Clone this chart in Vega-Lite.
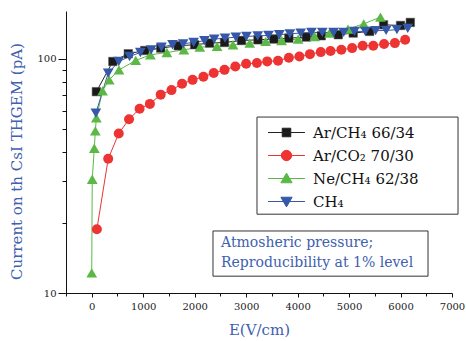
{
  "$schema": "https://vega.github.io/schema/vega-lite/v6.json",
  "width": 386,
  "height": 282,
  "padding": {"left": 66, "top": 11, "right": 14, "bottom": 48},
  "autosize": {"type": "none"},
  "background": "white",
  "config": {
    "view": {"stroke": null},
    "font": "DejaVu Serif",
    "axis": {
      "domainColor": "#111",
      "tickColor": "#111",
      "labelColor": "#222",
      "labelFont": "DejaVu Serif",
      "labelFontSize": 10,
      "titleFont": "DejaVu Serif",
      "titleFontSize": 15,
      "titleFontWeight": "normal",
      "titleColor": "#4060b0",
      "grid": false
    }
  },
  "datasets": {
    "pts": [
      {"series": "Ar/CH₄ 66/34", "E": 90, "I": 72.4},
      {"series": "Ar/CH₄ 66/34", "E": 410, "I": 97.4},
      {"series": "Ar/CH₄ 66/34", "E": 710, "I": 105.1},
      {"series": "Ar/CH₄ 66/34", "E": 1030, "I": 108.5},
      {"series": "Ar/CH₄ 66/34", "E": 1340, "I": 111.1},
      {"series": "Ar/CH₄ 66/34", "E": 1680, "I": 113.7},
      {"series": "Ar/CH₄ 66/34", "E": 2000, "I": 114.8},
      {"series": "Ar/CH₄ 66/34", "E": 2290, "I": 116.7},
      {"series": "Ar/CH₄ 66/34", "E": 2580, "I": 117.4},
      {"series": "Ar/CH₄ 66/34", "E": 2910, "I": 119.7},
      {"series": "Ar/CH₄ 66/34", "E": 3230, "I": 120.5},
      {"series": "Ar/CH₄ 66/34", "E": 3540, "I": 121.4},
      {"series": "Ar/CH₄ 66/34", "E": 3830, "I": 122.5},
      {"series": "Ar/CH₄ 66/34", "E": 4170, "I": 123.8},
      {"series": "Ar/CH₄ 66/34", "E": 4460, "I": 125.4},
      {"series": "Ar/CH₄ 66/34", "E": 4790, "I": 126.7},
      {"series": "Ar/CH₄ 66/34", "E": 5080, "I": 128.8},
      {"series": "Ar/CH₄ 66/34", "E": 5400, "I": 130.9},
      {"series": "Ar/CH₄ 66/34", "E": 5670, "I": 139.7},
      {"series": "Ar/CH₄ 66/34", "E": 6000, "I": 138.8},
      {"series": "Ar/CH₄ 66/34", "E": 6190, "I": 143},
      {"series": "Ar/CO₂ 70/30", "E": 100, "I": 18.7},
      {"series": "Ar/CO₂ 70/30", "E": 320, "I": 37.4},
      {"series": "Ar/CO₂ 70/30", "E": 525, "I": 48.0},
      {"series": "Ar/CO₂ 70/30", "E": 725, "I": 55.2},
      {"series": "Ar/CO₂ 70/30", "E": 930, "I": 61.2},
      {"series": "Ar/CO₂ 70/30", "E": 1130, "I": 64.2},
      {"series": "Ar/CO₂ 70/30", "E": 1340, "I": 70.3},
      {"series": "Ar/CO₂ 70/30", "E": 1550, "I": 73.5},
      {"series": "Ar/CO₂ 70/30", "E": 1755, "I": 78.2},
      {"series": "Ar/CO₂ 70/30", "E": 1960, "I": 81.3},
      {"series": "Ar/CO₂ 70/30", "E": 2170, "I": 83.8},
      {"series": "Ar/CO₂ 70/30", "E": 2370, "I": 86.9},
      {"series": "Ar/CO₂ 70/30", "E": 2580, "I": 89.7},
      {"series": "Ar/CO₂ 70/30", "E": 2790, "I": 92.7},
      {"series": "Ar/CO₂ 70/30", "E": 3000, "I": 95.2},
      {"series": "Ar/CO₂ 70/30", "E": 3210, "I": 95.9},
      {"series": "Ar/CO₂ 70/30", "E": 3410, "I": 97.5},
      {"series": "Ar/CO₂ 70/30", "E": 3620, "I": 98.1},
      {"series": "Ar/CO₂ 70/30", "E": 3830, "I": 101},
      {"series": "Ar/CO₂ 70/30", "E": 4035, "I": 102.3},
      {"series": "Ar/CO₂ 70/30", "E": 4240, "I": 104.7},
      {"series": "Ar/CO₂ 70/30", "E": 4450, "I": 106.8},
      {"series": "Ar/CO₂ 70/30", "E": 4640, "I": 107.9},
      {"series": "Ar/CO₂ 70/30", "E": 4850, "I": 109.3},
      {"series": "Ar/CO₂ 70/30", "E": 5060, "I": 111.1},
      {"series": "Ar/CO₂ 70/30", "E": 5265, "I": 113.7},
      {"series": "Ar/CO₂ 70/30", "E": 5470, "I": 113.7},
      {"series": "Ar/CO₂ 70/30", "E": 5680, "I": 115.6},
      {"series": "Ar/CO₂ 70/30", "E": 5890, "I": 116.7},
      {"series": "Ar/CO₂ 70/30", "E": 6090, "I": 120.6},
      {"series": "Ne/CH₄ 62/38", "E": 0, "I": 12.2},
      {"series": "Ne/CH₄ 62/38", "E": 10, "I": 30.6},
      {"series": "Ne/CH₄ 62/38", "E": 50, "I": 41.5},
      {"series": "Ne/CH₄ 62/38", "E": 70, "I": 49.2},
      {"series": "Ne/CH₄ 62/38", "E": 90, "I": 56},
      {"series": "Ne/CH₄ 62/38", "E": 210, "I": 73},
      {"series": "Ne/CH₄ 62/38", "E": 340, "I": 81.3},
      {"series": "Ne/CH₄ 62/38", "E": 530, "I": 89.7},
      {"series": "Ne/CH₄ 62/38", "E": 855, "I": 98.4},
      {"series": "Ne/CH₄ 62/38", "E": 1140, "I": 104},
      {"series": "Ne/CH₄ 62/38", "E": 1460, "I": 106.4},
      {"series": "Ne/CH₄ 62/38", "E": 1790, "I": 109.2},
      {"series": "Ne/CH₄ 62/38", "E": 2100, "I": 112.2},
      {"series": "Ne/CH₄ 62/38", "E": 2435, "I": 112.9},
      {"series": "Ne/CH₄ 62/38", "E": 2745, "I": 114.8},
      {"series": "Ne/CH₄ 62/38", "E": 3070, "I": 116.7},
      {"series": "Ne/CH₄ 62/38", "E": 3380, "I": 118.6},
      {"series": "Ne/CH₄ 62/38", "E": 3690, "I": 119.7},
      {"series": "Ne/CH₄ 62/38", "E": 4010, "I": 121.4},
      {"series": "Ne/CH₄ 62/38", "E": 4330, "I": 124.5},
      {"series": "Ne/CH₄ 62/38", "E": 4620, "I": 128.8},
      {"series": "Ne/CH₄ 62/38", "E": 4980, "I": 134},
      {"series": "Ne/CH₄ 62/38", "E": 5285, "I": 141},
      {"series": "Ne/CH₄ 62/38", "E": 5610, "I": 150.7},
      {"series": "CH₄", "E": 80, "I": 58.6},
      {"series": "CH₄", "E": 320, "I": 86.9},
      {"series": "CH₄", "E": 525, "I": 97.4},
      {"series": "CH₄", "E": 735, "I": 102.3},
      {"series": "CH₄", "E": 945, "I": 106.4},
      {"series": "CH₄", "E": 1155, "I": 109.2},
      {"series": "CH₄", "E": 1355, "I": 112.2},
      {"series": "CH₄", "E": 1570, "I": 114.8},
      {"series": "CH₄", "E": 1775, "I": 115.9},
      {"series": "CH₄", "E": 1980, "I": 117.5},
      {"series": "CH₄", "E": 2190, "I": 119.5},
      {"series": "CH₄", "E": 2380, "I": 121.4},
      {"series": "CH₄", "E": 2590, "I": 122.5},
      {"series": "CH₄", "E": 2800, "I": 123.8},
      {"series": "CH₄", "E": 3005, "I": 124.5},
      {"series": "CH₄", "E": 3225, "I": 125.4},
      {"series": "CH₄", "E": 3435, "I": 125.8},
      {"series": "CH₄", "E": 3645, "I": 126.7},
      {"series": "CH₄", "E": 3850, "I": 127.9},
      {"series": "CH₄", "E": 4060, "I": 128.8},
      {"series": "CH₄", "E": 4270, "I": 129.5},
      {"series": "CH₄", "E": 4480, "I": 129.6},
      {"series": "CH₄", "E": 4700, "I": 129.5},
      {"series": "CH₄", "E": 4895, "I": 129.8},
      {"series": "CH₄", "E": 5105, "I": 130.9},
      {"series": "CH₄", "E": 5315, "I": 130.9},
      {"series": "CH₄", "E": 5515, "I": 131.8},
      {"series": "CH₄", "E": 5720, "I": 132.2},
      {"series": "CH₄", "E": 5930, "I": 133.1},
      {"series": "CH₄", "E": 6140, "I": 134.9}
    ],
    "boxes": [
      {"box": "legend", "x1": 3211, "x2": 7117, "y1": 56.4, "y2": 21.7},
      {"box": "note", "x1": 2356, "x2": 6534, "y1": 18.4, "y2": 11.8}
    ],
    "note": [
      {"tx": 2512, "ty": 15.7, "text": ["Atmosheric pressure;", "Reproducibility at 1% level"]}
    ]
  },
  "encoding": {
    "x": {
      "field": "E", "type": "quantitative",
      "scale": {"domain": [-500, 7000], "nice": false, "zero": false},
      "axis": {
        "title": "E(V/cm)",
        "values": [-500, 0, 500, 1000, 1500, 2000, 2500, 3000, 3500, 4000, 4500, 5000, 5500, 6000, 6500, 7000],
        "format": "d",
        "labelExpr": "(datum.value >= 0 && datum.value % 1000 == 0) ? datum.label : ''",
        "labelOverlap": false,
        "labelFlush": false,
        "labelPadding": 4,
        "tickSize": {"condition": {"test": "datum.value % 1000 == 0", "value": 4}, "value": 3},
        "titlePadding": 11
      }
    },
    "y": {
      "field": "I", "type": "quantitative",
      "scale": {"type": "log", "domain": [10, 160], "nice": false},
      "axis": {
        "title": "Current on th CsI THGEM (pA)",
        "values": [10, 20, 30, 40, 50, 60, 70, 80, 90, 100],
        "format": "d",
        "labelExpr": "(datum.value == 10 || datum.value == 100) ? datum.label : ''",
        "labelOverlap": false,
        "labelPadding": 2,
        "tickSize": {"condition": {"test": "datum.value == 10 || datum.value == 100", "value": 8}, "value": 4},
        "titlePadding": 12,
        "titleY": 150
      }
    }
  },
  "layer": [
    {
      "data": {"name": "boxes"},
      "mark": {"type": "rect", "fill": "white", "stroke": "#333", "strokeWidth": 1},
      "encoding": {
        "x": {"field": "x1", "type": "quantitative"},
        "x2": {"field": "x2"},
        "y": {"field": "y1", "type": "quantitative"},
        "y2": {"field": "y2"}
      }
    },
    {
      "data": {"name": "note"},
      "mark": {"type": "text", "align": "left", "baseline": "alphabetic", "fontSize": 14, "lineHeight": 20, "color": "#4060b0", "font": "DejaVu Serif"},
      "encoding": {
        "x": {"field": "tx", "type": "quantitative"},
        "y": {"field": "ty", "type": "quantitative"},
        "text": {"field": "text"}
      }
    },
    {
      "data": {"name": "pts"},
      "mark": {"type": "line", "strokeWidth": 1},
      "encoding": {
        "stroke": {"field": "series", "type": "nominal",
          "scale": {"domain": ["Ar/CH₄ 66/34", "Ar/CO₂ 70/30", "Ne/CH₄ 62/38", "CH₄"], "range": ["#222222", "#ee3333", "#5cb846", "#3658a8"]},
          "legend": {
            "title": null, "orient": "none", "legendX": 191, "legendY": 106,
            "padding": 8,
            "labelFont": "DejaVu Serif", "labelFontSize": 15, "labelColor": "#111",
            "symbolSize": 81, "symbolOffset": 14, "labelOffset": 19, "rowPadding": 7,
            "symbolOpacity": 1, "symbolStrokeWidth": 1, "labelLimit": 300
          }},
        "order": {"field": "E"}
      }
    },
    {
      "data": {"name": "pts"},
      "transform": [{"filter": "datum.series == 'Ar/CH₄ 66/34'"}],
      "mark": {"type": "point", "shape": "square", "filled": true, "fill": "#1a1a1a", "stroke": "#555", "strokeWidth": 0.5, "size": 72, "opacity": 1}
    },
    {
      "data": {"name": "pts"},
      "transform": [{"filter": "datum.series == 'Ar/CO₂ 70/30'"}],
      "mark": {"type": "point", "shape": "circle", "filled": true, "fill": "#ee3333", "size": 100, "opacity": 1}
    },
    {
      "data": {"name": "pts"},
      "transform": [{"filter": "datum.series == 'Ne/CH₄ 62/38'"}],
      "mark": {"type": "point", "shape": "triangle-up", "filled": true, "fill": "#5cb846", "size": 115, "opacity": 1}
    },
    {
      "data": {"name": "pts"},
      "transform": [{"filter": "datum.series == 'CH₄'"}],
      "mark": {"type": "point", "shape": "triangle-down", "filled": true, "fill": "#3658a8", "size": 115, "opacity": 1}
    },
    {
      "data": {"name": "pts"},
      "transform": [{"filter": "datum.E < -1000"}],
      "mark": {"type": "point", "filled": true, "strokeWidth": 1},
      "encoding": {
        "fill": {"field": "series", "type": "nominal",
          "scale": {"domain": ["Ar/CH₄ 66/34", "Ar/CO₂ 70/30", "Ne/CH₄ 62/38", "CH₄"], "range": ["#1a1a1a", "#ee3333", "#5cb846", "#3658a8"]},
          "legend": {
            "title": null, "orient": "none", "legendX": 191, "legendY": 106,
            "padding": 8,
            "labelFont": "DejaVu Serif", "labelFontSize": 15, "labelColor": "#111",
            "symbolSize": 81, "symbolOffset": 14, "labelOffset": 19, "rowPadding": 7,
            "symbolOpacity": 1, "symbolStrokeWidth": 1, "labelLimit": 300
          }},
        "shape": {"field": "series", "type": "nominal",
          "scale": {"domain": ["Ar/CH₄ 66/34", "Ar/CO₂ 70/30", "Ne/CH₄ 62/38", "CH₄"],
            "range": ["M-4.1,0H4.1M-0.95,-0.95H0.95V0.95H-0.95Z", "M-4.1,0H4.1M1.15,0A1.15,1.15,0,1,1,-1.15,0A1.15,1.15,0,1,1,1.15,0Z", "M-4.1,0H4.1M0,-1.2L1.25,0.95L-1.25,0.95Z", "M-4.1,0H4.1M0,1.2L1.25,-0.95L-1.25,-0.95Z"]},
          "legend": {
            "title": null, "orient": "none", "legendX": 191, "legendY": 106,
            "padding": 8,
            "labelFont": "DejaVu Serif", "labelFontSize": 15, "labelColor": "#111",
            "symbolSize": 81, "symbolOffset": 14, "labelOffset": 19, "rowPadding": 7,
            "symbolOpacity": 1, "symbolStrokeWidth": 1, "labelLimit": 300
          }}
      }
    }
  ]
}
